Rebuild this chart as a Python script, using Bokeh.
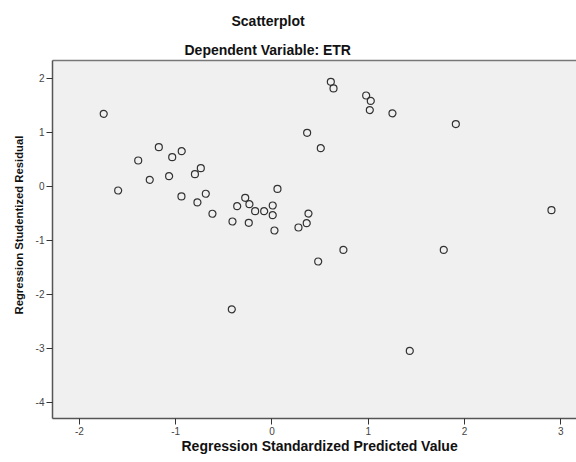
from bokeh.plotting import figure
from bokeh.models import Range1d, LinearAxis, FixedTicker, Title
from bokeh.embed import file_html
from bokeh.resources import INLINE

# Data
pred = [-1.747, -1.597, -1.389, -1.269, -1.175, -1.068, -1.036, -0.937, -0.940, -0.800,
        -0.739, -0.774, -0.687, -0.618, -0.410, -0.361, -0.278, -0.234, -0.241, -0.175,
        -0.081, 0.008, 0.008, 0.057, 0.026, 0.275, 0.361, 0.379, 0.365, 0.507,
        0.480, -0.417, 1.431, 0.611, 0.639, 0.978, 1.026, 1.016, 1.251, 1.909,
        2.902, 0.742, 1.784]
resid = [1.34, -0.08, 0.476, 0.118, 0.722, 0.185, 0.537, 0.648, -0.19, 0.222,
         0.333, -0.30, -0.14, -0.51, -0.654, -0.37, -0.215, -0.333, -0.679, -0.463,
         -0.463, -0.357, -0.537, -0.05, -0.82, -0.765, -0.685, -0.506, 0.988, 0.704,
         -1.394, -2.28, -3.05, 1.933, 1.81, 1.68, 1.58, 1.41, 1.35, 1.15,
         -0.444, -1.18, -1.18]
x_ticks = [-2, -1, 0, 1, 2, 3]
y_ticks = [-4, -3, -2, -1, 0, 1, 2]

title1 = "Scatterplot"
title2 = "Dependent Variable: ETR"
x_title = "Regression Standardized Predicted Value"
y_title = "Regression Studentized Residual"

FONT = "Liberation Sans"

p = figure(width=576, height=462, output_backend="svg", toolbar_location=None,
           x_range=Range1d(-2.279, 3.162), y_range=Range1d(-4.302, 2.328),
           min_border_left=52, min_border_right=0, min_border_top=60, min_border_bottom=44,
           x_axis_location=None, y_axis_location=None)
p.background_fill_color = "#f0f0f0"
p.border_fill_color = "white"
p.outline_line_color = None
p.grid.visible = False

def style_axis(ax, ticks):
    ax.ticker = FixedTicker(ticks=ticks)
    ax.major_label_overrides = {t: str(t) for t in ticks}
    ax.axis_line_color = "#555555"
    ax.axis_line_width = 1.5
    ax.major_tick_line_color = "#333333"
    ax.major_tick_line_width = 1
    ax.major_tick_out = 6
    ax.major_tick_in = 0
    ax.minor_tick_line_color = None
    ax.major_label_text_font = FONT
    ax.major_label_text_font_size = "10px"
    ax.major_label_text_color = "#444444"
    ax.major_label_standoff = 2

xa = LinearAxis()
style_axis(xa, x_ticks)
p.add_layout(xa, "below")
ya = LinearAxis()
style_axis(ya, y_ticks)
p.add_layout(ya, "left")
ta = LinearAxis(ticker=FixedTicker(ticks=[]))
ta.axis_line_color = "#777777"
ta.axis_line_width = 1.5
ta.major_tick_line_color = None
ta.minor_tick_line_color = None
ta.major_label_text_font_size = "0px"
p.add_layout(ta, "above")

p.scatter(pred, resid, size=7, marker="circle", fill_color=None,
          line_color="#333333", line_width=1.2)

def ttl(text, side, offset, size="14px", standoff=10, valign="bottom"):
    p.add_layout(Title(text=text, align="left", offset=offset, text_font=FONT,
                       text_font_size=size, text_font_style="bold", text_color="#111111",
                       standoff=standoff, vertical_align=valign), side)

ttl(title2, "above", 132, standoff=6)
ttl(title1, "above", 179, standoff=16)
ttl(x_title, "below", 129, standoff=0, valign="top")
ttl(y_title, "left", 104, size="11.3px", standoff=16)

open("out.html", "w").write(file_html(p, INLINE))
